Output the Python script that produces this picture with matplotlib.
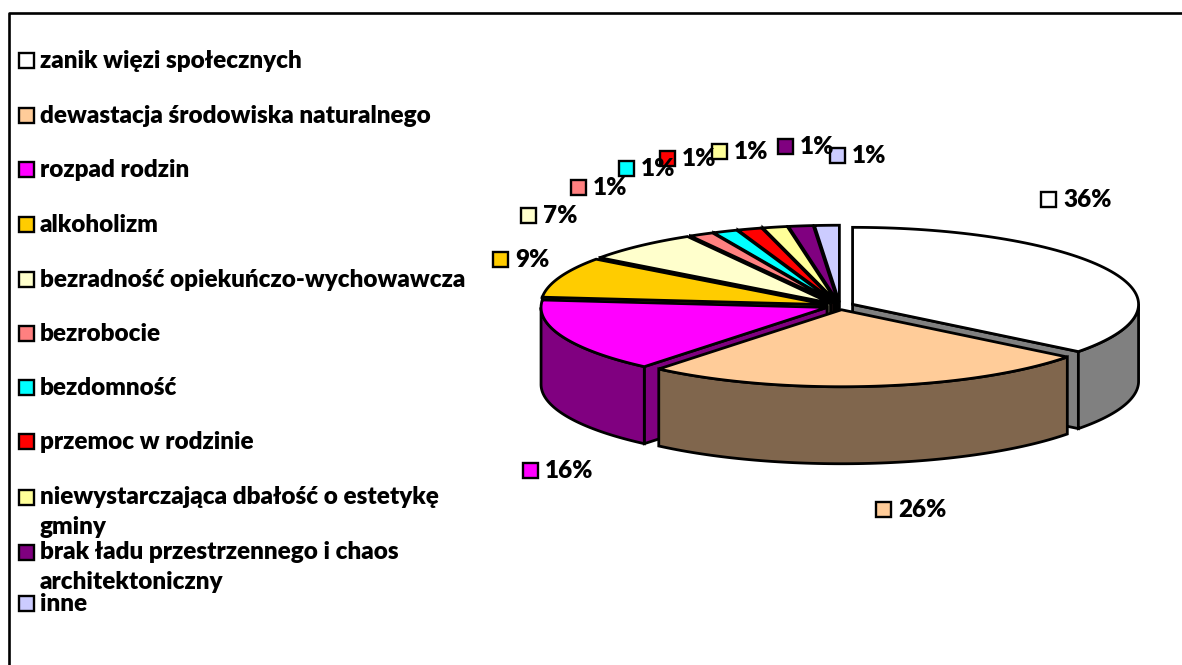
import numpy as np
import matplotlib
matplotlib.use('Agg')
import matplotlib.pyplot as plt
from matplotlib.patches import Polygon, Rectangle
from matplotlib.colors import to_rgb

# Data
categories = ['zanik więzi społecznych', 'dewastacja środowiska naturalnego', 'rozpad rodzin',
              'alkoholizm', 'bezradność opiekuńczo-wychowawcza', 'bezrobocie', 'bezdomność',
              'przemoc w rodzinie', 'niewystarczająca dbałość o estetykę\ngminy',
              'brak ładu przestrzennego i chaos\narchitektoniczny', 'inne']
values = [35.51, 25.51, 15.51, 8.51, 6.6, 1.39, 1.39, 1.39, 1.39, 1.39, 1.39]
colors = ['#FFFFFF', '#FFCC99', '#FF00FF', '#FFCC00', '#FFFFCC', '#FF8080',
          '#00FFFF', '#FF0000', '#FFFF99', '#800080', '#CCCCFF']

# Layout in pixels
label_x = [1048, 883, 530, 500, 528, 578, 626, 667, 719, 785, 837]
label_y = [199, 509, 470, 259, 215, 187, 168, 158, 151, 146, 155]
legend_y = [60, 115, 169, 224, 279, 333, 387, 441, 497, 552, 603]
cx, cy = 840, 306
a, b = 286, 77
depth = 77
explode = 14
lw = 2.0
font = 'Lato'

fig = plt.figure(figsize=(11.82, 6.65), dpi=100)
ax = fig.add_axes([0, 0, 1, 1])
ax.set_xlim(0, 1182)
ax.set_ylim(665, 0)
ax.axis('off')

# chart frame (only left and top are inside the picture)
ax.plot([9, 9, 1182], [665, 13, 13], color='black', lw=1.9)


def ell(t, ox, oy):
    return ox + a * np.sin(t), oy - b * np.cos(t)


def darker(c):
    return tuple(v * 0.5 for v in to_rgb(c))


def draw_slice(i, t0, t1):
    mid = (t0 + t1) / 2
    ox = cx + explode * np.sin(mid)
    oy = cy - explode * (b / a) * np.cos(mid)
    side = darker(colors[i])
    ts = np.linspace(t0, t1, 80)
    xs, ys = ell(ts, ox, oy)
    # radial faces, only when turned to the viewer
    if np.sin(t0) < 0:
        ax.add_patch(Polygon([(ox, oy), (xs[0], ys[0]), (xs[0], ys[0] + depth), (ox, oy + depth)],
                             fc=side, ec='black', lw=lw, joinstyle='miter'))
    if np.sin(t1) > 0:
        ax.add_patch(Polygon([(ox, oy), (xs[-1], ys[-1]), (xs[-1], ys[-1] + depth), (ox, oy + depth)],
                             fc=side, ec='black', lw=lw, joinstyle='miter'))
    # outer wall for the front part of the arc
    lo, hi = max(t0, np.pi / 2), min(t1, 3 * np.pi / 2)
    if lo < hi:
        tw = np.linspace(lo, hi, 80)
        wx, wy = ell(tw, ox, oy)
        pts = list(zip(wx, wy)) + list(zip(wx[::-1], wy[::-1] + depth))
        ax.add_patch(Polygon(pts, fc=side, ec='black', lw=lw, joinstyle='miter'))
    # top
    ax.add_patch(Polygon([(ox, oy)] + list(zip(xs, ys)), fc=colors[i], ec='black', lw=lw,
                         joinstyle='miter'))


edges = np.cumsum([0] + values) / sum(values) * 2 * np.pi
for i in [10, 9, 8, 7, 6, 5, 4, 3, 2, 0, 1]:
    draw_slice(i, edges[i], edges[i + 1])


def swatch(x, y, c):
    ax.add_patch(Rectangle((x - 7.5, y - 7.5), 15, 15, fc=c, ec='black', lw=1.7))


# data labels
for i, v in enumerate(values):
    swatch(label_x[i], label_y[i], colors[i])
    ax.text(label_x[i] + 15, label_y[i] + 1, f'{v:.0f}%', fontsize=17.5, fontweight='heavy',
            family=font, va='center', ha='left', color='black')

# legend
for i, name in enumerate(categories):
    swatch(26, legend_y[i], colors[i])
    wrapped = '\n' in name
    if wrapped:
        ax.text(40, legend_y[i] - 11, name, fontsize=17.5, fontweight='heavy', family=font,
                va='top', ha='left', color='black', linespacing=1.45)
    else:
        ax.text(40, legend_y[i] + 1, name, fontsize=17.5, fontweight='heavy', family=font,
                va='center', ha='left', color='black')

fig.savefig('out.png', dpi=100)
